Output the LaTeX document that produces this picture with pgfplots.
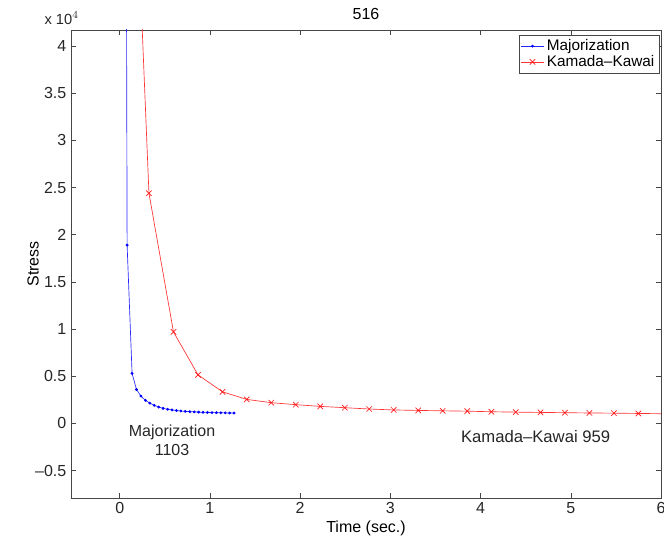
\documentclass[border=0pt]{standalone}
\usepackage{pgfplots}
\pgfplotsset{compat=1.18}
\usepackage{fontspec}
\setmainfont{Liberation Sans}
\definecolor{axgray}{RGB}{70,70,70}
\begin{document}
\begin{tikzpicture}[font=\fontsize{12}{14}\selectfont]
\begin{axis}[
    scale only axis,
    width=442.5pt, height=351pt,
    xmin=-0.54, xmax=6,
    ymin=-7900, ymax=41700,
    xtick={0,1,2,3,4,5,6},
    ytick={-5000,0,5000,10000,15000,20000,25000,30000,35000,40000},
    yticklabels={--0.5,0,0.5,1,1.5,2,2.5,3,3.5,4},
    scaled y ticks=false,
    /pgf/number format/assume math mode=true,
    tick align=inside,
    major tick length=4pt,
    axis line style={axgray},
    every tick/.style={axgray},
    tick label style={text=black!85},
    title={516},
    title style={yshift=-2pt},
    xlabel={Time (sec.)},
    ylabel={Stress},
    xlabel style={yshift=1.5pt},
    ylabel style={yshift=-9.5pt},
    clip mode=individual,
    legend style={at={(0.997,0.99)}, anchor=north east, draw=axgray,
        font=\fontsize{11.5}{13}\selectfont, inner sep=1.5pt, row sep=-2pt},
    legend cell align=left,
]
\addplot[blue!85, line width=0.5pt, mark=*, mark size=0.8pt,
    mark options={blue}] coordinates {
    (0.070,65000)(0.082,18900)
    (0.137,5300)(0.186,3600)(0.235,2900)(0.285,2450)(0.334,2150)(0.383,1920)
    (0.432,1740)(0.481,1600)(0.531,1500)(0.580,1430)(0.629,1370)(0.678,1320)
    (0.727,1280)(0.777,1250)(0.826,1220)(0.875,1200)(0.924,1180)(0.973,1165)
    (1.023,1150)(1.072,1140)(1.121,1130)(1.170,1120)(1.219,1110)(1.267,1103)
};
\addlegendentry{Majorization}
\addplot[red!80, line width=0.5pt, mark=x, mark size=2.9pt,
    mark options={red!90}] coordinates {
    (0.055,87000)(0.324,24400)(0.596,9700)(0.868,5150)(1.140,3350)
    (1.408,2550)(1.680,2200)(1.952,1990)(2.223,1810)(2.495,1670)
    (2.766,1530)(3.037,1430)(3.309,1380)(3.580,1340)(3.852,1300)
    (4.120,1240)(4.390,1200)(4.664,1170)(4.935,1140)(5.207,1110)
    (5.478,1090)(5.749,1060)(6.020,1030)(6.291,1000)(6.562,980)(6.833,959)
};
\addlegendentry{Kamada--Kawai}
\node[align=center, text=black!85] at (axis cs:0.58,-1800) {Majorization\\1103};
\node[text=black!85, font=\fontsize{12.5}{14}\selectfont] at (axis cs:4.61,-1400) {Kamada--Kawai 959};
\end{axis}
\node[anchor=south west, text=black!85, font=\fontsize{11}{13}\selectfont, inner sep=1pt]
    at ([xshift=-21pt, yshift=3pt]current axis.north west) {x 10$^{4}$};
\pgfresetboundingbox
\path[use as bounding box] ([xshift=-53.25pt, yshift=-29.25pt]current axis.south west)
    rectangle ([xshift=2.25pt, yshift=22.5pt]current axis.north east);
\end{tikzpicture}
\end{document}
